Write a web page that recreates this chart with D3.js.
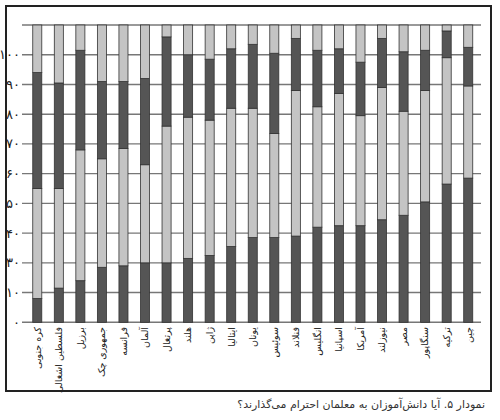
<!DOCTYPE html>
<html>
<head>
<meta charset="utf-8">
<script src="https://cdn.jsdelivr.net/npm/d3@7"></script>
<style>
  body { margin: 0; background: #fff; }
  svg { display: block; font-family: "DejaVu Sans", sans-serif; }
</style>
</head>
<body>
<svg id="chart" width="500" height="420"></svg>
<script>
// countries, left to right
var countries = ["کره جنوبی", "فلسطین اشغالی", "برزیل", "جمهوری چک", "فرانسه", "آلمان",
  "پرتغال", "هلند", "ژاپن", "ایتالیا", "یونان", "سوئیس", "فنلاند", "انگلیس",
  "اسپانیا", "آمریکا", "نیوزلند", "مصر", "سنگاپور", "ترکیه", "چین"];

// stacked shares, bottom to top (percent)
var part1 = [8, 11.5, 14, 18.5, 19, 20, 20, 21.5, 22.5, 25.5, 28.5, 28.5, 29, 32, 32.5, 32.5, 34.5, 36, 40.5, 46.5, 48.5];
var part2 = [37, 33.5, 44, 36.5, 39.5, 33, 46, 47.5, 45.5, 46.5, 43.5, 35, 49, 40.5, 44.5, 37, 44.5, 35, 37.5, 42.5, 31];
var part3 = [39, 35.5, 33.5, 26, 22.5, 29, 30, 21, 20.5, 20, 21.5, 27, 17.5, 19, 15, 18, 16.5, 20, 13.5, 9, 13];
var part4 = [16, 19.5, 8.5, 19, 19, 18, 4, 10, 11.5, 8, 6.5, 9.5, 4.5, 8.5, 8, 12.5, 4.5, 9, 8.5, 2, 7.5];

// y tick values and their labels as printed (the picture skips 20)
var tickValues = [0, 10, 20, 30, 40, 50, 60, 70, 80, 90, 100];
var tickLabels = ["۰", "۱۰", "۳۰", "۴۰", "۵۰", "۶۰", "۷۰", "۸۰", "۹۰", "۱۰۰", ""];

var caption = "نمودار ۵. آیا دانش‌آموزان به معلمان احترام می‌گذارند؟";

var colors = ["#555555", "#c4c4c4", "#555555", "#c4c4c4"];
var keys = ["p1", "p2", "p3", "p4"];

var table = countries.map(function(c, i) {
  return { name: c, p1: part1[i], p2: part2[i], p3: part3[i], p4: part4[i] };
});

var svg = d3.select("#chart");

// outer frame
svg.append("rect")
  .attr("x", 6).attr("y", 6)
  .attr("width", 485).attr("height", 385)
  .attr("fill", "none")
  .attr("stroke", "#222")
  .attr("stroke-width", 2);

var x = d3.scaleBand().domain(countries).range([26.5, 479]).paddingInner(0.58).paddingOuter(0.29);
var y = d3.scaleLinear().domain([0, 100]).range([322.3, 25]);

// horizontal grid
svg.append("g")
  .selectAll("line")
  .data(tickValues)
  .enter()
  .append("line")
  .attr("x1", 22).attr("x2", 481)
  .attr("y1", function(d) { return y(d); })
  .attr("y2", function(d) { return y(d); })
  .attr("stroke", "#777")
  .attr("stroke-width", 1.4);

// y labels
svg.append("g")
  .selectAll("text")
  .data(tickValues)
  .enter()
  .append("text")
  .attr("x", 20)
  .attr("y", function(d) { return y(d); })
  .attr("dy", "0.35em")
  .attr("text-anchor", "end")
  .attr("font-size", 13)
  .attr("fill", "#222")
  .text(function(d, i) { return tickLabels[i]; });

// bars
var series = d3.stack().keys(keys)(table);

svg.append("g")
  .selectAll("g")
  .data(series)
  .enter()
  .append("g")
  .attr("fill", function(d, i) { return colors[i]; })
  .selectAll("rect")
  .data(function(d) { return d; })
  .enter()
  .append("rect")
  .attr("x", function(d) { return x(d.data.name); })
  .attr("y", function(d) { return y(d[1]); })
  .attr("width", x.bandwidth())
  .attr("height", function(d) { return y(d[0]) - y(d[1]); })
  .attr("stroke", "#333")
  .attr("stroke-width", 0.8);

// country labels, rotated
svg.append("g")
  .selectAll("text")
  .data(countries)
  .enter()
  .append("text")
  .attr("transform", function(d) {
    return "translate(" + (x(d) + x.bandwidth() / 2) + ",327) rotate(-90)";
  })
  .attr("dy", "0.35em")
  .attr("direction", "rtl")
  .attr("text-anchor", "start")
  .attr("font-size", 9.5)
  .attr("fill", "#222")
  .text(function(d) { return d; });

// caption
svg.append("text")
  .attr("x", 485)
  .attr("y", 408)
  .attr("direction", "rtl")
  .attr("text-anchor", "start")
  .attr("font-size", 11)
  .attr("fill", "#333")
  .text(caption);
</script>
</body>
</html>
